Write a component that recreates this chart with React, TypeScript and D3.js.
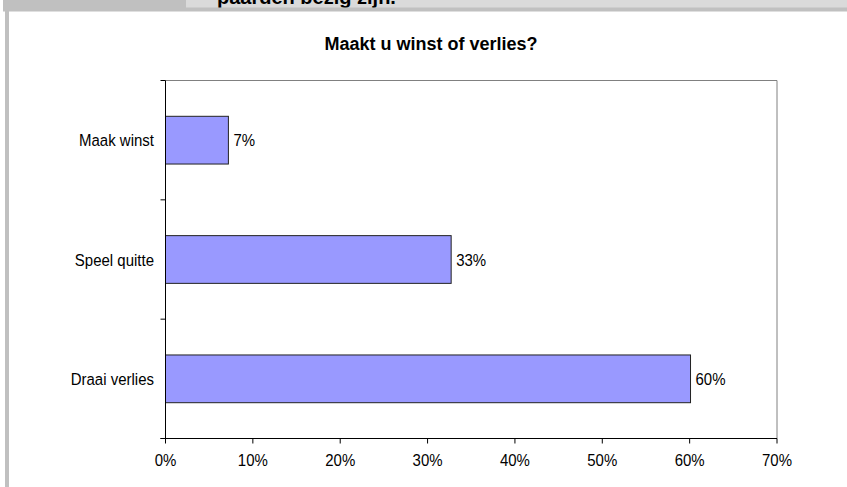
import React from "react";
import * as d3 from "d3";

const categories = ["Maak winst", "Speel quitte", "Draai verlies"];
const values = [0.072, 0.327, 0.601];
const xTicks = [0, 0.1, 0.2, 0.3, 0.4, 0.5, 0.6, 0.7];
const title = "Maakt u winst of verlies?";
const headerText = "paarden bezig zijn.";

const W = 847;
const H = 487;
const FONT = "'Liberation Sans', Arial, Helvetica, sans-serif";

export default function App() {
  const left = 165.5;
  const right = 777;
  const top = 80.5;
  const bottom = 438.5;
  const x = d3.scaleLinear().domain([0, 0.7]).range([left, right]);
  const y = d3
    .scaleBand<string>()
    .domain(categories)
    .range([top, bottom])
    .paddingInner(0.6)
    .paddingOuter(0.3);
  const step = y.step();
  const pct = (v: number) => `${Math.round(v * 100)}%`;
  const sy = 1.12;
  const fs = 15;

  const stretched = (tx: number, ty: number) =>
    `translate(${tx},${ty}) scale(1,${sy})`;

  return (
    <svg
      width={W}
      height={H}
      style={{ position: "fixed", top: 0, left: 0, background: "#fff" }}
    >
      {/* header band */}
      <rect x={3} y={0} width={W - 3} height={11.5} fill="#c0c0c0" />
      <rect x={186} y={0} width={W - 186} height={7.5} fill="#dadada" />
      <clipPath id="hdr">
        <rect x={186} y={0} width={W - 186} height={7.5} />
      </clipPath>
      <text
        x={217}
        y={4}
        fontFamily={FONT}
        fontWeight="bold"
        fontSize={20}
        fill="#000"
        clipPath="url(#hdr)"
      >
        {headerText}
      </text>
      {/* left strip */}
      <rect x={5} y={0} width={4} height={H} fill="#c0c0c0" />

      {/* title */}
      <text
        x={431}
        y={50}
        textAnchor="middle"
        fontFamily={FONT}
        fontWeight="bold"
        fontSize={18}
        fill="#000"
      >
        {title}
      </text>

      {/* plot frame */}
      <line x1={left} x2={right} y1={top} y2={top} stroke="#808080" />
      <line x1={right} x2={right} y1={top} y2={bottom} stroke="#808080" />

      {/* bars */}
      {categories.map((c, i) => {
        const y0 = y(c)!;
        const bw = y.bandwidth();
        return (
          <g key={c}>
            <rect
              x={x(0)}
              y={y0}
              width={x(values[i]) - x(0)}
              height={bw}
              fill="#9999ff"
              stroke="#222"
              strokeWidth={1}
            />
            <text
              transform={stretched(x(values[i]) + 5, y0 + bw / 2 + 6)}
              fontFamily={FONT}
              fontSize={fs}
              fill="#000"
            >
              {pct(values[i])}
            </text>
            <text
              transform={stretched(154, y0 + bw / 2 + 6)}
              textAnchor="end"
              fontFamily={FONT}
              fontSize={fs}
              fill="#000"
            >
              {c}
            </text>
          </g>
        );
      })}

      {/* y axis */}
      <line x1={left} x2={left} y1={top} y2={bottom} stroke="#000" />
      {d3.range(categories.length + 1).map((i) => {
        const yy = top + i * step;
        return (
          <line key={i} x1={left - 5} x2={left} y1={yy} y2={yy} stroke="#000" />
        );
      })}

      {/* x axis */}
      <line x1={left - 5} x2={right} y1={bottom} y2={bottom} stroke="#000" />
      {xTicks.map((t) => (
        <g key={t}>
          <line x1={x(t)} x2={x(t)} y1={bottom} y2={bottom + 5} stroke="#000" />
          <text
            transform={stretched(x(t), 466)}
            textAnchor="middle"
            fontFamily={FONT}
            fontSize={fs}
            fill="#000"
          >
            {pct(t)}
          </text>
        </g>
      ))}
    </svg>
  );
}
